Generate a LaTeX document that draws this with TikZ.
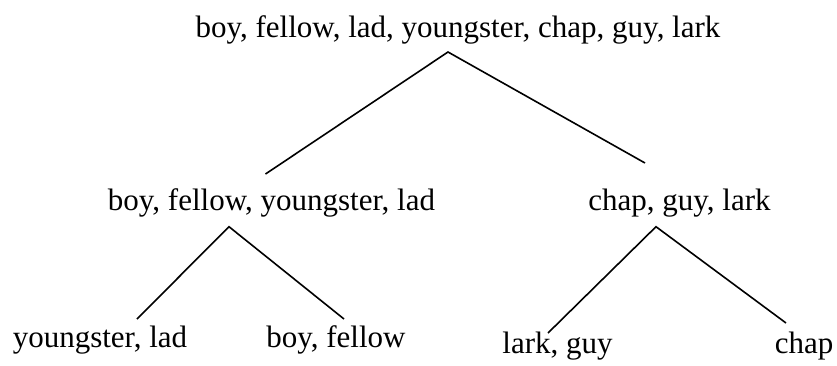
\documentclass[tikz,border=0pt]{standalone}
\usepackage{fontspec}
\setmainfont{Liberation Serif}
\tikzset{
  word/.style={anchor=base, inner sep=0pt, font=\fontsize{31}{37}\selectfont},
  branch/.style={line width=1.6pt}
}

\begin{document}
\begin{tikzpicture}[x=1pt,y=-1pt]
\useasboundingbox (0,0) rectangle (837,365);
\node[word] (all) at (458,37) {boy, fellow, lad, youngster, chap, guy, lark};
\node[word] (boys) at (271.5,210) {boy, fellow, youngster, lad};
\node[word] (chaps) at (679.5,210) {chap, guy, lark};
\node[word] (young) at (100,347) {youngster, lad};
\node[word] (fellow) at (336,347) {boy, fellow};
\node[word] (lark) at (557.5,353) {lark, guy};
\node[word] (chap) at (804,353) {chap};
\draw[branch] ([shift={(-6,-36)}]boys.base) -- ([shift={(-10,15)}]all.base) -- ([shift={(-34.5,-47)}]chaps.base);
\draw[branch] ([shift={(37,-28)}]young.base) -- ([shift={(-42.5,16.7)}]boys.base) -- ([shift={(8,-28)}]fellow.base);
\draw[branch] ([shift={(-9.5,-20)}]lark.base) -- ([shift={(-23.5,16.7)}]chaps.base) -- ([shift={(-18,-30)}]chap.base);
\end{tikzpicture}
\end{document}
